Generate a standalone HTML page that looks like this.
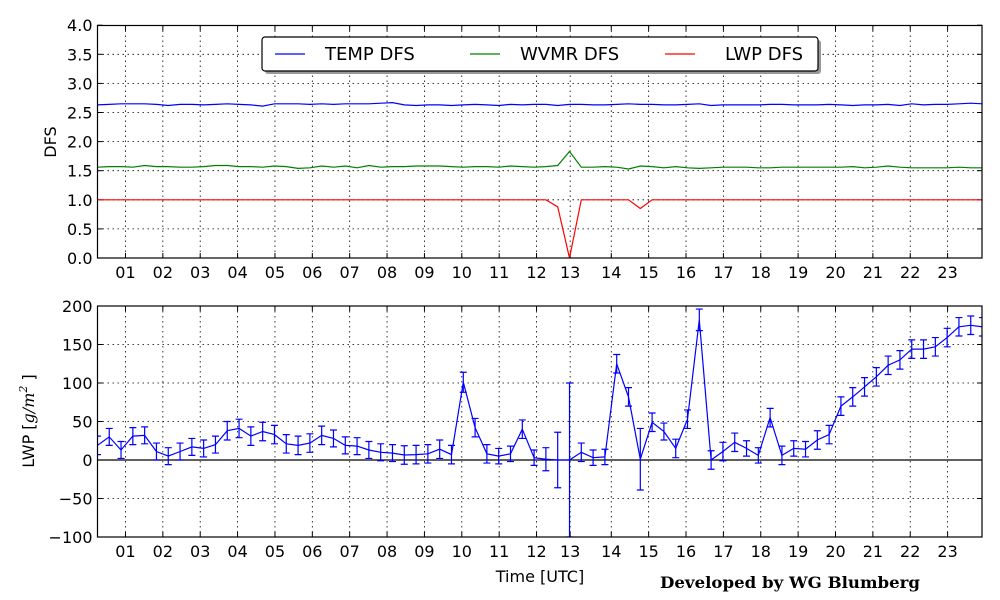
<!DOCTYPE html>
<html><head><meta charset="utf-8"><style>
html,body{margin:0;padding:0;background:#fff;}
svg{display:block;font-family:"DejaVu Sans","Liberation Sans",sans-serif;}
</style></head><body>
<svg id="chart" width="1000" height="600" viewBox="0 0 1000 600" xmlns="http://www.w3.org/2000/svg">
<rect x="0" y="0" width="1000" height="600" fill="#fff"/>
<g id="topPanel"></g>
<g id="botPanel"></g>
<text x="0" y="0" transform="translate(56,142) rotate(-90)" text-anchor="middle" font-size="16">DFS</text>
<text x="0" y="0" transform="translate(34,421) rotate(-90)" text-anchor="middle" font-size="16">LWP [<tspan font-family="DejaVu Serif" font-style="italic">g/m</tspan><tspan font-size="11" dy="-7" font-family="DejaVu Serif" font-style="italic">2</tspan><tspan dy="7"> ]</tspan></text>
<text x="540" y="582" text-anchor="middle" font-size="16">Time [UTC]</text>
<text x="660" y="588" font-family="DejaVu Serif" font-weight="bold" font-size="16" textLength="260" lengthAdjust="spacingAndGlyphs">Developed by WG Blumberg</text>
<g>
<rect x="265" y="40" width="556" height="34" rx="3" fill="#999"/>
<rect x="262" y="37" width="556" height="34" rx="3" fill="#fff" stroke="#000" stroke-width="1.2"/>
<line x1="275" y1="54" x2="305" y2="54" stroke="#00f" stroke-width="1.2"/>
<text x="325" y="60" font-size="18">TEMP DFS</text>
<line x1="470" y1="54" x2="500" y2="54" stroke="#008000" stroke-width="1.2"/>
<text x="520" y="60" font-size="18">WVMR DFS</text>
<line x1="665" y1="54" x2="695" y2="54" stroke="#f00" stroke-width="1.2"/>
<text x="725" y="60" font-size="18">LWP DFS</text>
</g>
</svg>
<script>
const tickHours=[1,2,3,4,5,6,7,8,9,10,11,12,12.9,14,15,16,17,18,19,20,21,22,23];
const tickLabels=["01","02","03","04","05","06","07","08","09","10","11","12","13","14","15","16","17","18","19","20","21","22","23"];
const startHour=0.25;
const stepHour=0.3158;
const tempDfs=[2.63,2.64,2.65,2.65,2.65,2.64,2.62,2.64,2.64,2.63,2.64,2.65,2.64,2.63,2.61,2.65,2.65,2.65,2.64,2.65,2.64,2.65,2.65,2.65,2.66,2.67,2.63,2.62,2.63,2.63,2.62,2.63,2.64,2.63,2.62,2.64,2.63,2.64,2.64,2.62,2.64,2.64,2.63,2.63,2.64,2.65,2.64,2.64,2.63,2.63,2.64,2.65,2.62,2.63,2.63,2.63,2.63,2.64,2.64,2.63,2.63,2.63,2.64,2.63,2.62,2.63,2.63,2.64,2.62,2.65,2.63,2.64,2.64,2.65,2.66,2.65];
const wvmrDfs=[1.56,1.57,1.57,1.56,1.59,1.57,1.57,1.56,1.56,1.57,1.59,1.59,1.57,1.57,1.56,1.58,1.57,1.54,1.55,1.58,1.56,1.58,1.55,1.59,1.56,1.57,1.57,1.58,1.58,1.58,1.57,1.56,1.57,1.57,1.56,1.58,1.57,1.56,1.57,1.59,1.83,1.56,1.56,1.57,1.56,1.53,1.58,1.57,1.55,1.57,1.55,1.54,1.55,1.56,1.56,1.56,1.55,1.55,1.56,1.56,1.56,1.56,1.56,1.56,1.57,1.55,1.56,1.58,1.56,1.55,1.55,1.55,1.55,1.56,1.55,1.55];
const lwpDfs=[1,1,1,1,1,1,1,1,1,1,1,1,1,1,1,1,1,1,1,1,1,1,1,1,1,1,1,1,1,1,1,1,1,1,1,1,1,1,1,0.88,0,1,1,1,1,1,0.85,1,1,1,1,1,1,1,1,1,1,1,1,1,1,1,1,1,1,1,1,1,1,1,1,1,1,1,1,1];
const lwpValues=[19,30,13,31,32,11,5,11,17,15,20,38,41,31,37,33,21,19,22,32,28,19,18,13,10,9,6.5,7,8,14,7,101,42,8,5,8,40,3,1,0,0,10,3,4,125,82,1,49,37,15,53,182,0,11,23,15,6,55,6,15,14,26,33,70,82,95,108,123,130,144,144,147,159,173,175,173];
const lwpErrors=[12,11,11,11,11,11,11,11,11,11,11,12,12,12,12,12,12,12,12,12,11,11,11,11,11,11,12,12,12,12,12,13,12,12,10,10,12,10,15,36,100,12,10,10,12,12,40,12,11,12,12,14,12,12,12,10,10,12,12,10,10,12,12,12,12,12,12,12,12,12,12,12,12,12,12,12];
const dfsTicks=["0.0","0.5","1.0","1.5","2.0","2.5","3.0","3.5","4.0"];
const lwpTicks=["−100","−50","0","50","100","150","200"];
const lwpTickValues=[-100,-50,0,50,100,150,200];

const NS="http://www.w3.org/2000/svg";
const L=97.5,R=982;
const xs=h=>88.1+37.37*h;
const tY=v=>258-58.2*v;
const bY=v=>460-0.77*v;
function mk(tag,attrs,parent){const e=document.createElementNS(NS,tag);for(const k in attrs)e.setAttribute(k,attrs[k]);parent.appendChild(e);return e;}
function panel(g,y0,y1,yTicks,yFn,yVals){
  tickHours.forEach((h,i)=>{
    const x=xs(h);
    const gl=mk('line',{x1:x,y1:y0,x2:x,y2:y1,stroke:'#000','stroke-width':0.8,'stroke-dasharray':'1.5,3.5'},g);
    
    
    mk('line',{x1:x,y1:y1,x2:x,y2:y1-5,stroke:'#000'},g);
    mk('line',{x1:x,y1:y0,x2:x,y2:y0+5,stroke:'#000'},g);
    const t=mk('text',{x:x,y:y1+20,'text-anchor':'middle','font-size':16},g);
    t.textContent=tickLabels[i];
    
    
  });
  yTicks.forEach((lab,i)=>{
    const y=yFn(yVals[i]);
    if(y>y0+1&&y<y1-1){
      const gl=mk('line',{x1:L,y1:y,x2:R,y2:y,stroke:'#000','stroke-width':0.8,'stroke-dasharray':'1.5,3.5'},g);
      
      
    }
    mk('line',{x1:L,y1:y,x2:L+5,y2:y,stroke:'#000'},g);
    mk('line',{x1:R,y1:y,x2:R-5,y2:y,stroke:'#000'},g);
    const t=mk('text',{x:L-5,y:y+6,'text-anchor':'end','font-size':16},g);
    t.textContent=lab;
    
    
  });
}
function series(g,arr,yFn,color,name){
  const pts=arr.map((v,i)=>xs(startHour+i*stepHour).toFixed(1)+','+yFn(v).toFixed(1)).join(' ');
  const p=mk('polyline',{points:pts,fill:'none',stroke:color,'stroke-width':1.2},g);
  
  
}
const topG=document.getElementById('topPanel'),botG=document.getElementById('botPanel');
panel(topG,25.5,258,dfsTicks,tY,dfsTicks.map(Number));
series(topG,tempDfs,tY,'#00f','temp-dfs-line');
series(topG,wvmrDfs,tY,'#008000','wvmr-dfs-line');
series(topG,lwpDfs,tY,'#f00','lwp-dfs-line');
mk('rect',{x:L,y:25.5,width:R-L,height:258-25.5,fill:'none',stroke:'#000','stroke-width':1.2},topG);

panel(botG,306,537,lwpTicks,bY,lwpTickValues);
mk('line',{x1:L,y1:bY(0),x2:R,y2:bY(0),stroke:'#000','stroke-width':1.2},botG);
const defs=mk('defs',{},botG);
const clip=mk('clipPath',{id:'bc'},defs);
mk('rect',{x:L,y:306,width:R-L,height:231},clip);
const eg=mk('g',{'clip-path':'url(#bc)'},botG);
lwpValues.forEach((v,i)=>{
  const x=xs(startHour+i*stepHour),y1=bY(v+lwpErrors[i]),y2=bY(v-lwpErrors[i]);
  const b=mk('path',{d:`M${x},${y1}V${y2}M${x-3.5},${y1}H${x+3.5}M${x-3.5},${y2}H${x+3.5}`,stroke:'#00f','stroke-width':1.2,fill:'none'},eg);
  
  
});
series(eg,lwpValues,bY,'#00f','lwp-line');
mk('rect',{x:L,y:306,width:R-L,height:231,fill:'none',stroke:'#000','stroke-width':1.2},botG);
</script>
</body></html>
